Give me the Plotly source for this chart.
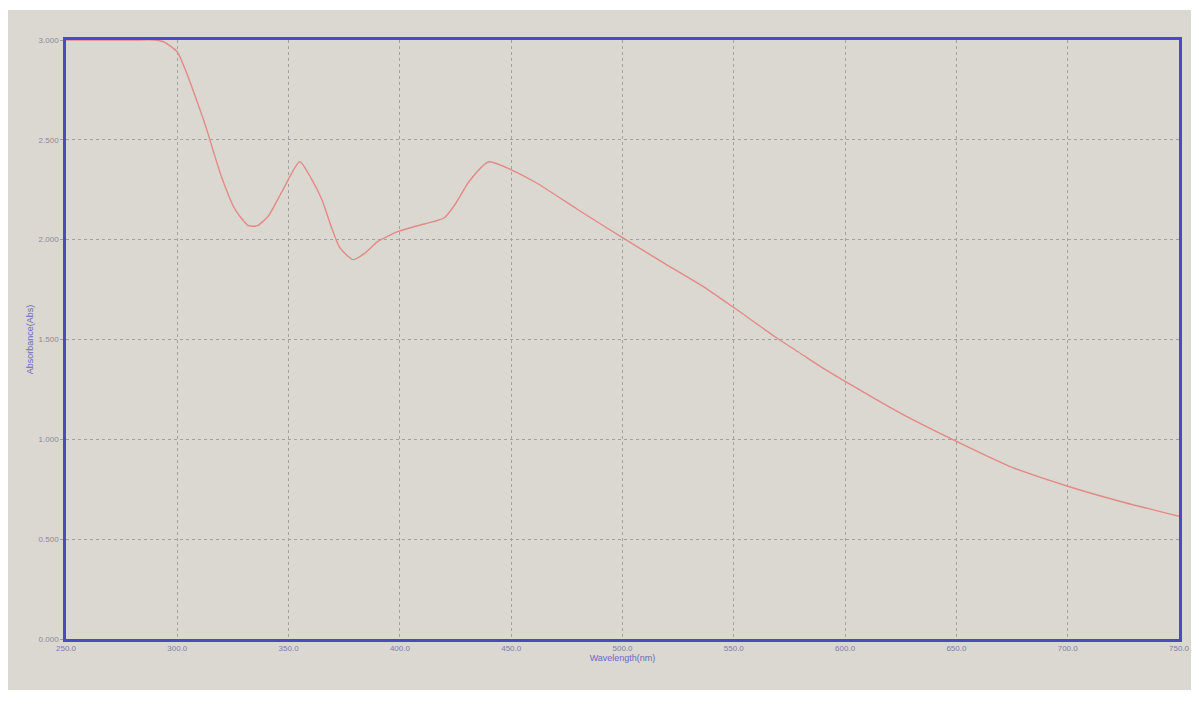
import plotly.graph_objects as go

wavelength = [250, 260, 270, 280, 290, 294, 300, 304, 308, 313, 316, 320, 326, 332, 336,
              341, 347, 355, 360, 365, 369, 373, 379, 384, 390, 399, 408, 415, 420, 425,
              431, 440, 450, 462, 480, 500, 519, 537, 550, 569, 580, 591, 600, 625, 650,
              675, 700, 725, 750]
absorbance = [3.0, 3.0, 3.0, 3.0, 3.0, 2.99, 2.94, 2.84, 2.72, 2.56, 2.45, 2.31, 2.15, 2.07, 2.07,
              2.12, 2.24, 2.39, 2.31, 2.20, 2.07, 1.96, 1.90, 1.93, 1.99, 2.04, 2.07, 2.09, 2.11, 2.18,
              2.29, 2.39, 2.35, 2.28, 2.15, 2.01, 1.88, 1.76, 1.66, 1.51, 1.43, 1.35, 1.29, 1.13, 0.99,
              0.86, 0.765, 0.685, 0.615]

x_ticks = [250, 300, 350, 400, 450, 500, 550, 600, 650, 700, 750]
x_tick_labels = ["250.0", "300.0", "350.0", "400.0", "450.0", "500.0", "550.0", "600.0", "650.0", "700.0", "750.0"]
y_ticks = [0, 0.5, 1.0, 1.5, 2.0, 2.5, 3.0]
y_tick_labels = ["0.000", "0.500", "1.000", "1.500", "2.000", "2.500", "3.000"]

# the page body adds an 8px margin on each side, so the figure is sized to fit
OFF = 8
W, H = 1199 - 2 * OFF, 704 - 2 * OFF
ML, MR, MT = 66 - OFF, 12, 40 - OFF
MB = H - (639 - OFF)
screen = "#dad8d0"

fig = go.Figure()
fig.add_trace(go.Scatter(
    x=wavelength, y=absorbance, mode="lines",
    line=dict(color="#e48a86", width=1.4, shape="spline", smoothing=0.6),
    hoverinfo="x+y", showlegend=False,
))

pw = W - ML - MR
ph = H - MT - MB
def px2x(p):
    return (p - OFF - ML) / pw
def py2y(p):
    return 1 - (p - OFF - MT) / ph

fig.add_shape(type="rect", xref="paper", yref="paper",
              x0=px2x(8), x1=px2x(1199), y0=py2y(690), y1=py2y(10),
              fillcolor=screen, line=dict(width=0), layer="below")

fig.update_layout(
    width=W, height=H,
    margin=dict(l=ML, r=MR, t=MT, b=MB),
    paper_bgcolor="white",
    plot_bgcolor=screen,
    font=dict(family="Liberation Sans, Arial, sans-serif"),
    xaxis=dict(
        range=[250, 750], tickvals=x_ticks, ticktext=x_tick_labels,
        showgrid=True, gridcolor="#a2a2a2", griddash="dot", gridwidth=1,
        showline=True, linecolor="#4a4ac8", linewidth=2.5, mirror=True,
        ticks="", zeroline=False, automargin=False, ticklabeloverflow="allow",
        tickfont=dict(size=8, color="#7c7cb0"),
        title=dict(text="Wavelength(nm)", font=dict(size=9, color="#6a6ac0"), standoff=2),
    ),
    yaxis=dict(
        range=[0, 3], tickvals=y_ticks, ticktext=y_tick_labels,
        showgrid=True, gridcolor="#a2a2a2", griddash="dot", gridwidth=1,
        showline=True, linecolor="#4a4ac8", linewidth=2.5, mirror=True,
        ticks="outside", ticklen=3, tickcolor="#9a9ab8", zeroline=False, automargin=False,
        tickfont=dict(size=8, color="#8a8a9a"),
        title=dict(text="Absorbance(Abs)", font=dict(size=9, color="#6a6ac0"), standoff=4),
    ),
)

fig.write_html("out.html")
